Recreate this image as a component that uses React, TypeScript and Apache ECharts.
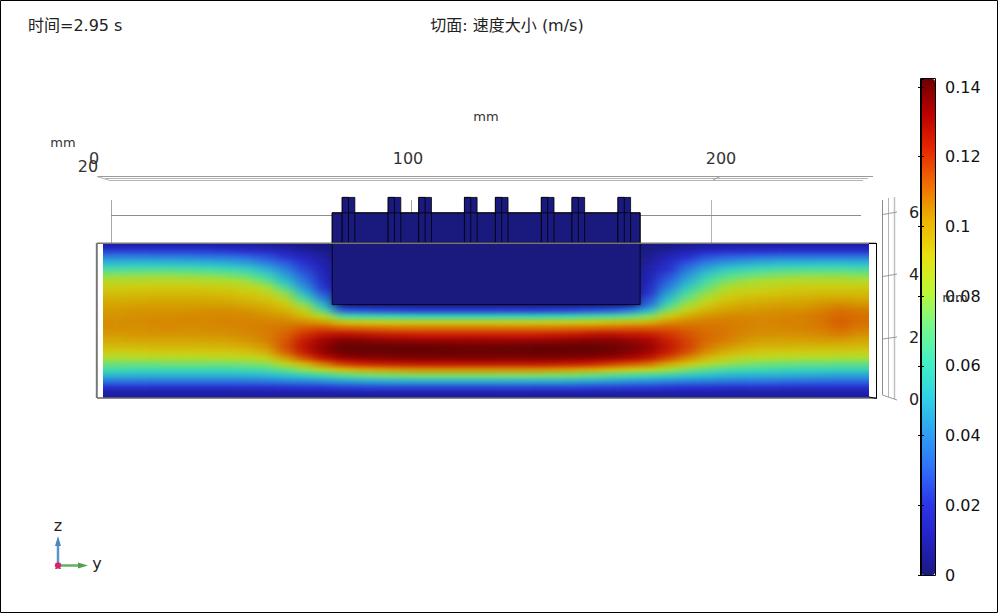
import React, { useEffect, useRef } from "react";
import * as echarts from "echarts";

const FONT = '"DejaVu Sans", "Noto Sans CJK SC", sans-serif';

// speed magnitude in mm/s: one list per column (left to right), top row first
const speedColumns: number[][] = [
  [10,24,38,50,64,76,84,90,94,98,101,103,104,105,105,103,100,96,90,82,72,62,49,33,19,8],
  [10,24,38,51,65,76,85,90,95,98,102,104,105,105,105,104,101,96,90,82,72,61,48,33,19,8],
  [10,24,38,51,65,77,85,91,95,99,102,104,105,106,105,104,101,97,91,83,72,61,48,33,19,8],
  [10,24,38,50,65,77,85,91,95,99,102,104,105,106,106,104,101,97,91,83,73,61,48,33,19,8],
  [10,24,37,50,64,76,85,91,95,99,102,104,106,106,105,104,101,97,91,83,73,61,48,33,19,8],
  [10,23,36,49,63,75,84,90,95,99,102,105,106,106,106,104,102,97,92,84,73,61,48,33,19,8],
  [9,22,35,47,61,73,83,89,94,98,102,105,106,107,106,105,102,98,92,84,73,61,48,33,19,8],
  [8,20,32,44,57,69,79,87,92,96,100,104,106,107,107,106,104,100,94,85,74,62,48,33,19,8],
  [7,17,27,37,48,59,70,81,88,93,98,102,105,107,108,108,107,104,98,88,76,64,49,34,19,8],
  [5,13,21,29,37,44,52,64,76,85,92,98,103,107,110,112,114,115,112,102,86,70,52,36,20,8],
  [3,8,14,19,24,29,34,41,50,63,77,88,96,106,114,120,125,127,125,115,96,77,56,37,21,8],
  [2,4,7,10,12,14,17,21,27,37,50,66,86,103,116,126,133,136,135,127,108,85,60,39,21,8],
  [0,0,0,0,0,0,0,0,0,0,4,30,66,94,113,128,138,142,141,134,118,94,66,42,23,8],
  [0,0,0,0,0,0,0,0,0,0,3,28,63,92,112,127,137,142,142,136,122,98,70,44,24,8],
  [0,0,0,0,0,0,0,0,0,0,3,26,62,91,111,125,136,142,142,137,124,101,72,45,24,8],
  [0,0,0,0,0,0,0,0,0,0,3,25,61,90,110,124,135,142,142,138,125,103,73,46,24,8],
  [0,0,0,0,0,0,0,0,0,0,3,24,60,90,110,123,134,142,142,138,126,104,74,46,24,8],
  [0,0,0,0,0,0,0,0,0,0,3,24,60,90,110,123,134,142,142,138,126,104,74,46,24,8],
  [0,0,0,0,0,0,0,0,0,0,3,24,60,90,110,123,134,141,142,138,126,104,74,46,24,8],
  [0,0,0,0,0,0,0,0,0,0,3,24,60,90,110,123,134,141,142,138,126,104,74,46,24,8],
  [0,0,0,0,0,0,0,0,0,0,3,24,60,90,110,123,134,141,142,138,126,104,74,46,24,8],
  [0,0,0,0,0,0,0,0,0,0,3,24,60,90,110,123,134,142,142,138,126,104,74,46,24,8],
  [0,0,0,0,0,0,0,0,0,0,3,24,60,90,110,123,134,142,142,138,126,104,74,46,24,8],
  [0,0,0,0,0,0,0,0,0,0,3,25,61,90,110,124,135,142,142,138,125,103,73,46,24,8],
  [0,0,0,0,0,0,0,0,0,0,3,26,62,91,111,125,136,142,142,137,124,101,72,45,24,8],
  [0,0,0,0,0,0,0,0,0,0,3,28,64,92,112,127,137,142,142,136,122,98,69,44,23,8],
  [0,0,0,0,0,0,0,0,0,0,4,30,66,94,113,128,137,141,141,134,118,94,66,42,23,8],
  [0,0,0,0,0,0,0,0,0,0,6,36,70,96,114,126,135,139,138,131,114,90,62,40,22,8],
  [2,3,5,7,9,11,13,16,20,26,33,50,76,98,114,125,132,135,133,126,110,86,60,39,22,8],
  [3,7,12,16,20,25,30,36,44,52,62,76,92,105,114,120,124,126,124,116,100,80,57,37,21,8],
  [5,12,20,27,34,41,47,55,64,72,80,89,100,107,112,115,117,118,115,106,92,74,54,36,20,8],
  [7,16,27,37,46,55,63,70,77,84,91,98,104,108,110,111,111,109,105,96,84,68,51,35,20,8],
  [8,19,31,42,55,65,74,81,87,92,97,102,106,108,109,109,108,104,98,90,78,64,49,34,19,8],
  [8,20,33,46,59,70,79,85,90,95,100,103,106,107,107,106,104,100,94,85,75,62,48,33,19,8],
  [8,20,35,48,62,73,82,87,92,97,101,104,106,106,106,105,102,98,92,84,73,61,47,33,19,8],
  [8,21,36,50,64,75,84,89,93,98,102,105,106,107,106,105,102,98,91,83,72,60,47,32,19,8],
  [9,21,36,50,65,76,84,90,94,99,102,105,107,107,107,105,102,97,91,82,71,59,46,32,18,8],
  [9,21,36,51,65,76,85,90,95,100,104,107,109,109,108,106,103,97,90,82,71,59,45,31,18,8],
  [9,21,36,51,65,76,85,90,95,101,106,110,112,113,111,108,103,97,90,81,70,58,44,31,18,8],
  [9,21,36,50,64,75,84,90,95,99,104,108,110,110,108,105,101,96,89,81,70,58,44,31,18,8],
];

const colorStops = [
  "#1a1a80", "#2222c4", "#2c35e8", "#2f70fa", "#2fa0f2", "#2fd2e6", "#42f0c4", "#74f88e",
  "#bcf834", "#e8e010", "#ecb400", "#f07000", "#e82800", "#bc0000", "#700000",
];

const speedMax = 0.1423;
const channelLength = 245;
const zTop = 6.5;

// geometry in mm: [y start, y end, z start, z end]
const blockBody = [73.3, 171.8, 3, 5];
const blockPlate = [73.3, 171.8, 5, 5.98];
const pinStarts = [76.5, 91.2, 101, 115.6, 125.5, 140.2, 150, 164.7];
const pinWidth = 4.05;
const pinTop = 6.48;

const topTicks = [
  { text: "0", x: 94, y: 158 },
  { text: "100", x: 408, y: 158 },
  { text: "200", x: 721, y: 158 },
];
const sideTicks = [
  { text: "6", y: 212 },
  { text: "4", y: 274 },
  { text: "2", y: 337 },
  { text: "0", y: 399 },
];

// channel rectangle in page pixels, and the hidden edge cells that keep the soft filter from fading to white
const heatBox = { left: 103, top: 243, width: 766, height: 155 };
const padCols = 2;
const padRows = 3;

const label = (text: string, x: number, y: number, fontSize: number, fill: string, align = "center") => ({
  type: "text",
  z: 20,
  silent: true,
  style: { text, x, y, fontSize, fontFamily: FONT, fill, align, verticalAlign: "middle" },
});
const seg = (x1: number, y1: number, x2: number, y2: number, stroke = "#9a9a9a", lineWidth = 1, z = 1) => ({
  type: "line",
  z,
  silent: true,
  shape: { x1, y1, x2, y2 },
  style: { stroke, lineWidth, fill: "none" },
});

const cols = speedColumns.length;
const rows = speedColumns[0].length;
const cellW = 766 / cols;
const cellH = 154 / rows;
const padW = padCols * cellW;
const padH = padRows * cellH;

export default function App() {
  const ref = useRef<HTMLDivElement>(null);
  const heatRef = useRef<HTMLDivElement>(null);
  useEffect(() => {
    // field layer
    const heatChart = echarts.init(heatRef.current!, undefined, { renderer: "svg" });
    const heat: number[][] = [];
    for (let i = -padCols; i < cols + padCols; i++) {
      for (let j = -padRows; j < rows + padRows; j++) {
        const c = speedColumns[Math.min(cols - 1, Math.max(0, i))];
        heat.push([i + padCols, j + padRows, c[Math.min(rows - 1, Math.max(0, j))] / 1000]);
      }
    }
    heatChart.setOption({
      animation: false,
      grid: { left: 0, top: 0, width: 766 + 2 * padW, height: 154 + 2 * padH },
      xAxis: { type: "category", show: false, data: Array.from({ length: cols + 2 * padCols }, (_, i) => i) },
      yAxis: { type: "category", show: false, inverse: true, data: Array.from({ length: rows + 2 * padRows }, (_, i) => i) },
      visualMap: { show: false, type: "continuous", min: 0, max: speedMax, inRange: { color: colorStops } },
      series: [{ type: "heatmap", data: heat, silent: true, itemStyle: { borderWidth: 0 } }],
    });

    // everything else
    const chart = echarts.init(ref.current!, undefined, { renderer: "svg" });
    const rects = [
      blockBody,
      blockPlate,
      ...pinStarts.map((s) => [s, s + pinWidth, 5, pinTop]),
      ...pinStarts.map((s) => [s, s + pinWidth / 2, 5, pinTop]),
    ];

    chart.setOption({
      animation: false,
      backgroundColor: "transparent",
      grid: [
        { left: 103, top: 397 - zTop * 30.8, width: 766, height: zTop * 30.8 },
        { left: 921, top: 79, width: 14, height: 496 },
      ],
      xAxis: [
        { gridIndex: 0, type: "value", show: false, min: 0, max: channelLength },
        { gridIndex: 1, type: "value", show: false, min: 0, max: 1 },
      ],
      yAxis: [
        { gridIndex: 0, type: "value", show: false, min: 0, max: zTop },
        {
          gridIndex: 1, type: "value", position: "right", min: 0, max: speedMax, interval: 0.02, z: 12,
          splitLine: { show: false },
          axisLine: { show: true, lineStyle: { color: "#000", width: 1 } },
          axisTick: { show: true, inside: true, length: 3, lineStyle: { color: "#000" } },
          axisLabel: { show: true, showMaxLabel: false, margin: 10, fontSize: 16, fontFamily: FONT, color: "#111", padding: [2, 0, 0, 0] },
        },
        {
          gridIndex: 1, type: "value", position: "left", min: 0, max: speedMax, interval: 0.02, z: 12,
          splitLine: { show: false },
          axisLine: { show: true, lineStyle: { color: "#000", width: 1 } },
          axisTick: { show: true, inside: true, length: 3, lineStyle: { color: "#000" } },
          axisLabel: { show: false },
        },
      ],
      visualMap: {
        type: "continuous",
        seriesIndex: 2,
        min: 0,
        max: speedMax,
        left: 921,
        top: 79,
        padding: 0,
        itemWidth: 14,
        itemHeight: 496,
        calculable: false,
        hoverLink: false,
        text: ["", ""],
        inRange: { color: colorStops },
      },
      series: [
        {
          type: "custom",
          xAxisIndex: 0,
          yAxisIndex: 0,
          silent: true,
          clip: false,
          z: 5,
          data: rects,
          encode: { x: [0, 1], y: [2, 3] },
          renderItem: (params: any, api: any) => {
            const a = api.coord([api.value(0), api.value(3)]);
            const b = api.coord([api.value(1), api.value(2)]);
            return {
              type: "rect",
              shape: { x: a[0], y: a[1], width: b[0] - a[0], height: b[1] - a[1] },
              style: { fill: "#1a1a7e", stroke: "#000", lineWidth: 0.8 },
            };
          },
        },
        {
          type: "custom",
          xAxisIndex: 0,
          yAxisIndex: 0,
          silent: true,
          clip: false,
          z: 6,
          data: [blockPlate],
          encode: { x: [0, 1], y: [2, 3] },
          renderItem: (params: any, api: any) => {
            const a = api.coord([api.value(0), api.value(3)]);
            const b = api.coord([api.value(1), api.value(2)]);
            return {
              type: "rect",
              shape: { x: a[0], y: a[1], width: b[0] - a[0], height: b[1] - a[1] },
              style: { fill: "none", stroke: "#000", lineWidth: 0.8 },
            };
          },
        },
        {
          type: "scatter",
          xAxisIndex: 1,
          yAxisIndex: 1,
          silent: true,
          symbolSize: 0,
          data: [],
        },
      ],
      graphic: [
        { type: "rect", z: 30, silent: true, shape: { x: 0.5, y: 0.5, width: 997, height: 612 }, style: { fill: "none", stroke: "#000", lineWidth: 1 } },
        { type: "rect", z: 30, silent: true, shape: { x: 920.5, y: 78.5, width: 15, height: 497 }, style: { fill: "none", stroke: "#000", lineWidth: 1 } },
        // projected top axis
        seg(97, 176.5, 873, 176.5),
        seg(105, 178.5, 868, 178.5, "#b5b5b5"),
        seg(110, 180.5, 863, 180.5, "#b5b5b5"),
        seg(97, 176.5, 110, 180.5, "#b5b5b5"),
        seg(713, 180, 720, 176.5),
        // back plane
        seg(111.5, 200, 111.5, 243, "#a8a8a8"),
        seg(711.5, 200, 711.5, 243, "#b5b5b5"),
        seg(411.5, 200, 411.5, 213, "#a8a8a8"),
        seg(111, 215.5, 332, 215.5, "#8c8c8c"),
        seg(640, 215.5, 861, 215.5, "#8c8c8c"),
        // side axis
        seg(882.5, 200, 882.5, 395, "#8c8c8c"),
        seg(888.5, 198, 888.5, 397, "#b5b5b5"),
        seg(894.5, 197, 894.5, 399, "#c0c0c0", 1.5),
        seg(882.5, 395, 897, 400),
        seg(883, 214.5, 897, 212),
        seg(883, 276.5, 897, 274),
        seg(883, 339, 897, 337),
        // channel frame
        seg(97, 243.3, 876, 243.3, "#777", 1.5, 7),
        seg(96.8, 243, 96.8, 398, "#777", 2, 7),
        seg(97, 398, 876, 398, "#666", 1.5, 7),
        seg(876.5, 243, 876.5, 398.5, "#000", 1, 7),
        seg(869, 243.5, 876.5, 243.5, "#000", 1, 7),
        seg(869, 397, 876.5, 398.5, "#000", 1, 7),
        // titles and axis texts
        label("时间=2.95 s", 28, 25.5, 16, "#222", "left"),
        label("切面: 速度大小 (m/s)", 507, 25.5, 16, "#222"),
        label("mm", 486, 116.5, 13, "#333"),
        label("mm", 63, 142.5, 13, "#333"),
        label("mm", 955, 297, 13, "#333"),
        label("20", 88, 166, 16, "#333"),
        ...topTicks.map((t) => label(t.text, t.x, t.y, 16, "#333")),
        ...sideTicks.map((t) => label(t.text, 914, t.y, 16, "#222")),
        // orientation triad
        seg(58, 565, 58, 545, "#5b94c8", 2.5, 10),
        { type: "polygon", z: 10, silent: true, shape: { points: [[58, 536], [55, 546], [61, 546]] }, style: { fill: "#4a86c0" } },
        seg(58, 565.5, 80, 565.5, "#62b062", 2.5, 10),
        { type: "polygon", z: 10, silent: true, shape: { points: [[88, 565.5], [78, 562.5], [78, 568.5]] }, style: { fill: "#50a050" } },
        label("x", 58, 565, 11, "#222"),
        { type: "circle", z: 21, silent: true, shape: { cx: 58, cy: 565.5, r: 3.2 }, style: { fill: "#e0206a" } },
        label("z", 58, 525, 16, "#222"),
        label("y", 97, 563, 16, "#222"),
      ],
    });
    return () => {
      chart.dispose();
      heatChart.dispose();
    };
  }, []);
  return (
    <div style={{ position: "absolute", left: 0, top: 0, width: 1000, height: 616, background: "#fff", overflow: "hidden" }}>
      <svg width="0" height="0" style={{ position: "absolute" }}>
        <filter id="soften" x="0" y="0" width="100%" height="100%" colorInterpolationFilters="sRGB">
          <feGaussianBlur stdDeviation="7 2.2" />
        </filter>
      </svg>
      <div style={{ position: "absolute", overflow: "hidden", ...heatBox }}>
        <div style={{ position: "absolute", left: -padW, top: -padH, width: 766 + 2 * padW, height: 154 + 2 * padH, filter: "url(#soften) brightness(0.9)" }}>
          <div ref={heatRef} style={{ width: "100%", height: "100%" }} />
        </div>
      </div>
      <div ref={ref} style={{ position: "absolute", left: 0, top: 0, width: 1000, height: 616 }} />
    </div>
  );
}
